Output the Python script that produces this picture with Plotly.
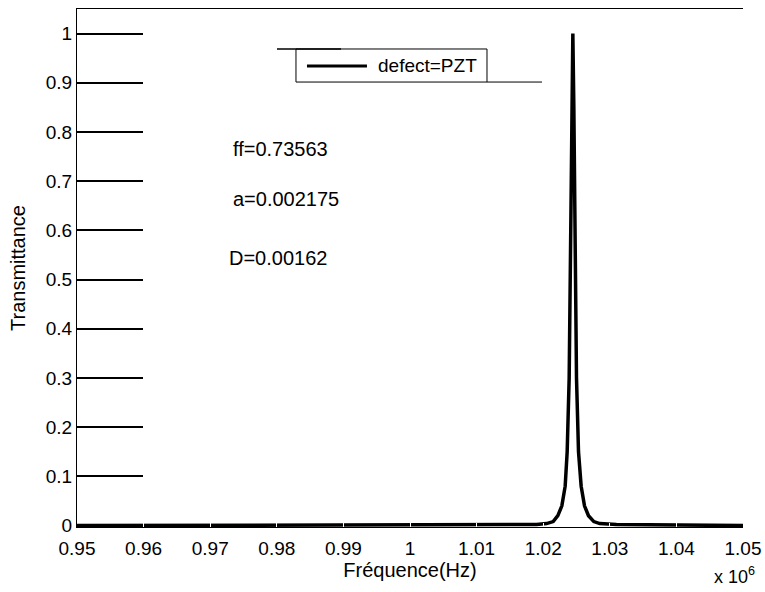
import plotly.graph_objs as go

# frequency (x 10^6 Hz) and transmittance
freq = [0.95, 1.00, 1.015, 1.019, 1.0205, 1.0215, 1.0222, 1.0228, 1.0233,
        1.0236, 1.0239, 1.0241, 1.0243, 1.02445, 1.0246, 1.0248, 1.025,
        1.0253, 1.0257, 1.0262, 1.0268, 1.0276, 1.0285, 1.031, 1.04, 1.05]
trans = [0.0, 0.0005, 0.001, 0.002, 0.004, 0.008, 0.02, 0.04, 0.08,
         0.15, 0.3, 0.55, 0.85, 1.0, 0.85, 0.55, 0.3,
         0.15, 0.08, 0.04, 0.02, 0.008, 0.004, 0.002, 0.001, 0.0]

x_ticks = [0.95, 0.96, 0.97, 0.98, 0.99, 1.0, 1.01, 1.02, 1.03, 1.04, 1.05]
x_labels = ['0.95', '0.96', '0.97', '0.98', '0.99', '1', '1.01', '1.02', '1.03', '1.04', '1.05']
y_ticks = [0, 0.1, 0.2, 0.3, 0.4, 0.5, 0.6, 0.7, 0.8, 0.9, 1]
y_labels = ['0', '0.1', '0.2', '0.3', '0.4', '0.5', '0.6', '0.7', '0.8', '0.9', '1']

legend_name = 'defect=PZT'
params = ['ff=0.73563', 'a=0.002175', 'D=0.00162']

FONT = 'Liberation Sans, Arial, sans-serif'

data = [go.Scatter(x=freq, y=trans, mode='lines', name=legend_name,
                   line=dict(color='black', width=3.5), showlegend=False)]

layout = go.Layout(
    width=765, height=592,
    margin=dict(l=77, r=22, t=9, b=65),
    paper_bgcolor='white', plot_bgcolor='white',
    font=dict(family=FONT, size=19, color='black'),
    xaxis=dict(range=[0.95, 1.05], tickvals=x_ticks, ticktext=x_labels,
               automargin=False, showgrid=False, zeroline=False,
               showline=True, linecolor='black', linewidth=1, mirror='ticks',
               ticks='inside', ticklen=4, tickwidth=1, tickcolor='white',
               ticklabelstandoff=4,
               title=dict(text='Fréquence(Hz)', standoff=4,
                          font=dict(size=20))),
    yaxis=dict(range=[-0.003, 1.05], tickvals=y_ticks, ticktext=y_labels,
               automargin=False, showgrid=False, zeroline=False,
               showline=True, linecolor='black', linewidth=1,
               ticks='inside', ticklen=66, tickwidth=2, tickcolor='black',
               title=dict(text='Transmittance', standoff=14,
                          font=dict(size=20))),
)

fig = go.Figure(data=data, layout=layout)

# legend drawn by hand (box, sample line, label, stray border pieces)
fig.add_shape(type='rect', xref='paper', yref='paper',
              x0=0.3288, x1=0.6156, y0=0.859, y1=0.9228,
              line=dict(color='black', width=1), fillcolor='white')
fig.add_shape(type='line', xref='paper', yref='paper',
              x0=0.3003, x1=0.3964, y0=0.9228, y1=0.9228,
              line=dict(color='black', width=1.5))
fig.add_shape(type='line', xref='paper', yref='paper',
              x0=0.6156, x1=0.6982, y0=0.859, y1=0.859,
              line=dict(color='black', width=1))
fig.add_shape(type='line', xref='paper', yref='paper',
              x0=0.3453, x1=0.4354, y0=0.89, y1=0.89,
              line=dict(color='black', width=3))
fig.add_annotation(text=legend_name, xref='paper', yref='paper',
                   x=0.449, y=0.89, xanchor='left', yanchor='middle',
                   showarrow=False, font=dict(size=19))

# parameter labels
for txt, px, py in zip(params, [0.2312, 0.2312, 0.2252], [0.7297, 0.633, 0.519]):
    fig.add_annotation(text=txt, xref='paper', yref='paper', x=px, y=py,
                       xanchor='left', yanchor='middle', showarrow=False,
                       font=dict(size=20))

# exponent label
fig.add_annotation(text='x 10<sup>6</sup>', xref='paper', yref='paper',
                   x=1.021, y=-0.093, xanchor='right', yanchor='middle',
                   showarrow=False, font=dict(size=18))

# drop the default body margin so the 765x592 figure fills the window
fig.write_html('out.html', config={'displayModeBar': False},
               post_script="document.body.style.margin='0px';"
                           "document.body.style.overflow='hidden';")
